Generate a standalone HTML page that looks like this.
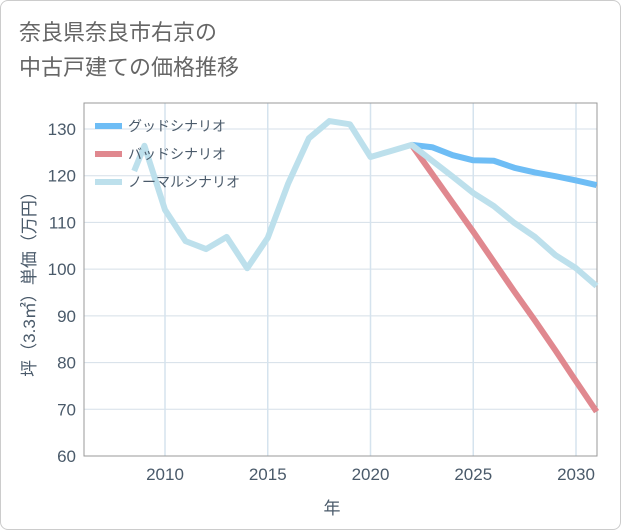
<!DOCTYPE html>
<html><head><meta charset="utf-8"><style>
body{margin:0;background:#fff;font-family:"Liberation Sans","Noto Sans CJK JP",sans-serif}
#wrap{position:relative;width:619px;height:528px;border:1px solid #ccc;border-radius:8px;overflow:hidden}
#title{position:absolute;left:18px;top:14px;font-size:22px;line-height:35px;color:#666}
</style></head><body>
<div id="wrap">
<div id="title">奈良県奈良市右京の<br>中古戸建ての価格推移</div>
<svg id="chart" width="621" height="530" style="position:absolute;left:-1px;top:-1px"></svg>
</div>
<script>
const goodYears=[2022,2023,2024,2025,2026,2027,2028,2029,2030,2031];
const goodVals=[126.6,126.1,124.4,123.3,123.2,121.7,120.7,119.9,119.0,118.0];
const badYears=[2022,2023,2024,2025,2026,2027,2028,2029,2030,2031];
const badVals=[126.6,120.4,114.2,108.0,101.6,95.2,89.0,82.6,76.0,69.5];
const normYears=[2008.5,2009,2010,2011,2012,2013,2014,2015,2016,2017,2018,2019,2020,2021,2022,2023,2024,2025,2026,2027,2028,2029,2030,2031];
const normVals=[121,126.4,112.7,106,104.3,106.9,100.2,106.7,118.4,128,131.7,131,124,125.3,126.6,123.2,119.8,116.3,113.5,109.9,106.9,103,100.2,96.4];
const yTicks=[60,70,80,90,100,110,120,130];
const xTicks=[2010,2015,2020,2025,2030];
const NS="http://www.w3.org/2000/svg";
const svg=document.getElementById('chart');
const L=84,R=597,T=103,B=456;
const X=y=>165+(y-2010)*(576-165)/20;
const Y=v=>456-(v-60)*(456-129)/70;
function el(t,a,p){const e=document.createElementNS(NS,t);for(const k in a)e.setAttribute(k,a[k]);(p||svg).appendChild(e);return e;}
const grid=el('g',{});


yTicks.forEach(v=>{
 const l=el('line',{x1:L,x2:R,y1:Y(v),y2:Y(v),stroke:'#d5dfe8','stroke-width':1},grid);
 
 
 const t=el('text',{x:L-8,y:Y(v)+6,'text-anchor':'end','font-size':17,fill:'#4a5a6a'});
 t.textContent=v;
 
 
});
xTicks.forEach(v=>{
 const l=el('line',{x1:X(v),x2:X(v),y1:T,y2:B,stroke:'#d5e3ee','stroke-width':1.5},grid);
 
 
 const t=el('text',{x:X(v),y:B+24,'text-anchor':'middle','font-size':17,fill:'#4a5a6a'});
 t.textContent=v;
 
 
});
const frame=el('rect',{x:L,y:T,width:R-L,height:B-T,fill:'none',stroke:'#999','stroke-width':1});


function line(xs,vs,c,name){
 const p=el('polyline',{points:xs.map((x,i)=>X(x)+','+Y(vs[i])).join(' '),fill:'none',stroke:c,'stroke-width':6,'stroke-linejoin':'round'});
 
 
}
line(goodYears,goodVals,'#6ebdf5','good-scenario-line');
line(badYears,badVals,'#e0888f','bad-scenario-line');
line(normYears,normVals,'#bde0ec','normal-scenario-line');
const leg=[['グッドシナリオ','#6ebdf5'],['バッドシナリオ','#e0888f'],['ノーマルシナリオ','#bde0ec']];
leg.forEach((d,i)=>{
 const g=el('g',{});
 
 
 el('line',{x1:95,x2:122,y1:126+i*28,y2:126+i*28,stroke:d[1],'stroke-width':6},g);
 const t=el('text',{x:128,y:131+i*28,'font-size':14,fill:'#4a5a6a'},g);
 t.textContent=d[0];
});
const yl=el('text',{x:0,y:0,transform:'translate(35,280) rotate(-90)','text-anchor':'middle','font-size':17,fill:'#4a5a6a'});
yl.textContent='坪（3.3㎡）単価（万円）';


const xl=el('text',{x:332,y:514,'text-anchor':'middle','font-size':17,fill:'#4a5a6a'});
xl.textContent='年';


</script>
</body></html>
